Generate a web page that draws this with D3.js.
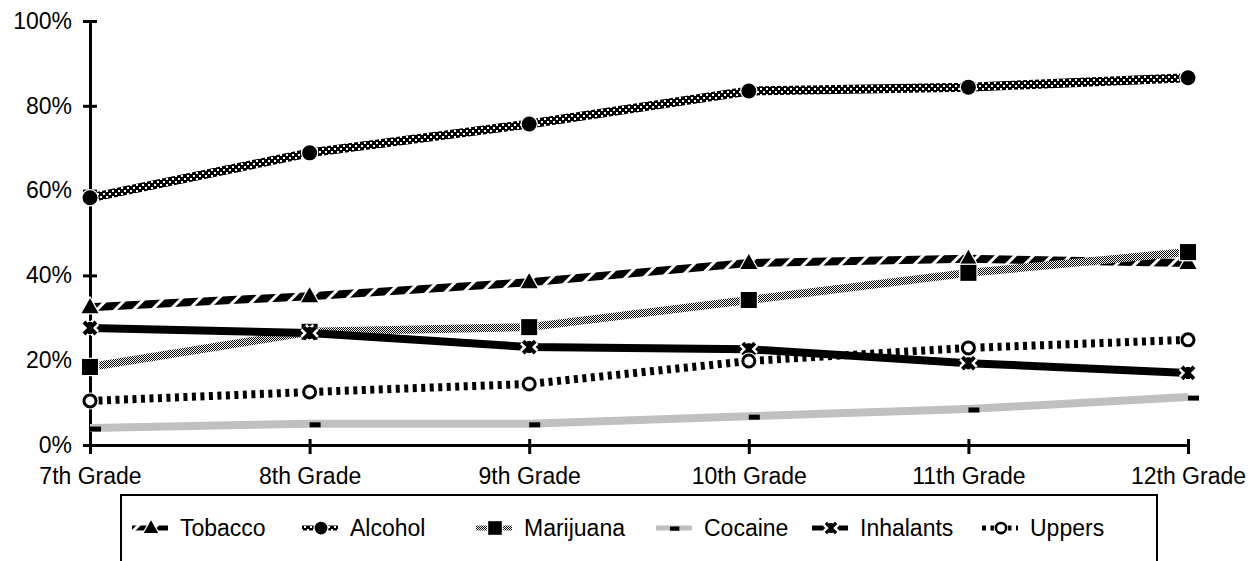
<!DOCTYPE html>
<html><head><meta charset="utf-8">
<script src="https://cdn.jsdelivr.net/npm/d3@7"></script>
<style>
html,body{margin:0;padding:0;background:#fff;}
svg{display:block;font-family:"Liberation Sans",Arial,sans-serif;}
</style></head>
<body><svg id="chart" width="1260" height="561"></svg>
<script>
const categories = ["7th Grade","8th Grade","9th Grade","10th Grade","11th Grade","12th Grade"];
const seriesNames = ["Tobacco","Alcohol","Marijuana","Cocaine","Inhalants","Uppers"];
const tobacco   = [32.5, 35.1, 38.4, 42.9, 43.9, 42.9];
const alcohol   = [58.3, 68.9, 75.7, 83.5, 84.4, 86.6];
const marijuana = [18.4, 26.7, 27.8, 34.2, 40.6, 45.5];
const cocaine   = [4.0, 5.0, 5.0, 6.8, 8.5, 11.3];
const inhalants = [27.6, 26.4, 23.1, 22.6, 19.3, 17.0];
const uppers    = [10.4, 12.5, 14.4, 19.8, 22.9, 24.8];
const yTicks = [0, 20, 40, 60, 80, 100];
const yTickLabels = ["0%","20%","40%","60%","80%","100%"];

const seriesValues = [tobacco, alcohol, marijuana, cocaine, inhalants, uppers];

const svg = d3.select("#chart");
const FONT = 23;

// patterns
const defs = svg.append("defs");
const pTob = defs.append("pattern").attr("id","pTob").attr("patternUnits","userSpaceOnUse")
  .attr("width",13).attr("height",13).attr("patternTransform","rotate(45)");
pTob.append("rect").attr("width",13).attr("height",13).attr("fill","#000");
pTob.append("rect").attr("width",3).attr("height",13).attr("fill","#fff");

const pAlc = defs.append("pattern").attr("id","pAlc").attr("patternUnits","userSpaceOnUse")
  .attr("width",6).attr("height",6);
pAlc.append("rect").attr("width",6).attr("height",6).attr("fill","#000");
pAlc.append("rect").attr("x",1).attr("y",1).attr("width",2).attr("height",2).attr("fill","#fff");
pAlc.append("rect").attr("x",4).attr("y",4).attr("width",2).attr("height",2).attr("fill","#fff");

const pMar = defs.append("pattern").attr("id","pMar").attr("patternUnits","userSpaceOnUse")
  .attr("width",2).attr("height",2);
pMar.append("rect").attr("width",2).attr("height",2).attr("fill","#fff");
pMar.append("rect").attr("width",1).attr("height",1).attr("fill","#000");
pMar.append("rect").attr("x",1).attr("y",1).attr("width",1).attr("height",1).attr("fill","#000");

const styles = [
  {stroke:"url(#pTob)", dash:null, marker:"triangle", w:8},
  {stroke:"url(#pAlc)", dash:null, marker:"circle", w:9},
  {stroke:"url(#pMar)", dash:null, marker:"square", w:8},
  {stroke:"#c0c0c0", dash:null, marker:"dash", w:8},
  {stroke:"#000", dash:null, marker:"star", w:8},
  {stroke:"#000", dash:"4,4.5", marker:"ocircle", w:8}
];

const x = d3.scalePoint().domain(categories).range([90, 1188]);
const y = d3.scaleLinear().domain([0, 100]).range([445, 21]);

// axes
const yAxis = d3.axisLeft(y).tickValues(yTicks).tickFormat((d,i)=>yTickLabels[i]).tickSizeInner(7).tickSizeOuter(0).tickPadding(11);
const gy = svg.append("g").attr("transform","translate(90,0)").call(yAxis);
gy.select(".domain").attr("stroke","#000").attr("stroke-width",3);
gy.selectAll(".tick line").attr("stroke","#000").attr("stroke-width",3).attr("x1",7);
gy.selectAll(".tick text").attr("font-size",FONT).attr("fill","#000").attr("font-family","Liberation Sans, Arial, sans-serif").attr("x",-18);

const xAxis = d3.axisBottom(x).tickSizeInner(9).tickSizeOuter(0).tickPadding(14);
const gx = svg.append("g").attr("transform","translate(0,445)").call(xAxis);
gx.select(".domain").attr("stroke","#000").attr("stroke-width",3);
gx.selectAll(".tick line").attr("stroke","#000").attr("stroke-width",3).attr("y1",-6);
gx.selectAll(".tick text").attr("font-size",FONT).attr("fill","#000").attr("font-family","Liberation Sans, Arial, sans-serif").attr("dy","0.71em");

// markers
function drawMarker(g, type, cx, cy, s) {
  s = s || 1;
  const halo = 2.5;
  if (type === "triangle") {
    const w = 8.5*s, h = 15*s;
    const pts = [[cx, cy-h*0.6],[cx+w, cy+h*0.4],[cx-w, cy+h*0.4]];
    g.append("polygon").attr("points", pts.map(p=>p.join(",")).join(" "))
      .attr("fill","#000").attr("stroke","#fff").attr("stroke-width",halo).attr("paint-order","stroke");
  } else if (type === "circle") {
    g.append("circle").attr("cx",cx).attr("cy",cy).attr("r",7.5*s)
      .attr("fill","#000").attr("stroke","#fff").attr("stroke-width",halo).attr("paint-order","stroke");
  } else if (type === "square") {
    const a = 8*s;
    g.append("rect").attr("x",cx-a).attr("y",cy-a).attr("width",2*a).attr("height",2*a)
      .attr("fill","#000").attr("stroke","#fff").attr("stroke-width",halo).attr("paint-order","stroke");
  } else if (type === "dash") {
    g.append("rect").attr("x",cx).attr("y",cy-1.5).attr("width",11*s).attr("height",5*s).attr("fill","#000");
  } else if (type === "star") {
    const a = 6*s;
    const d = `M${cx-a},${cy-a}L${cx+a},${cy+a}M${cx+a},${cy-a}L${cx-a},${cy+a}M${cx},${cy-a}L${cx},${cy+a}`;
    g.append("path").attr("d",d).attr("stroke","#fff").attr("stroke-width",4*s+2*halo).attr("fill","none");
    g.append("path").attr("d",d).attr("stroke","#000").attr("stroke-width",4*s).attr("fill","none");
  } else if (type === "ocircle") {
    g.append("circle").attr("cx",cx).attr("cy",cy).attr("r",8.5*s).attr("fill","#fff");
    g.append("circle").attr("cx",cx).attr("cy",cy).attr("r",6*s)
      .attr("fill","#fff").attr("stroke","#000").attr("stroke-width",3*s);
  }
}

const line = d3.line().x((d,i)=>x(categories[i])).y(d=>y(d));

seriesValues.forEach((vals, si) => {
  const st = styles[si];
  const g = svg.append("g");
  g.append("path").attr("d", line(vals)).attr("fill","none")
    .attr("stroke", st.stroke).attr("stroke-width", st.w)
    .attr("stroke-dasharray", st.dash);
  vals.forEach((v,i)=> drawMarker(g, st.marker, x(categories[i]), y(v)));
});

// legend
svg.append("rect").attr("x",121).attr("y",495).attr("width",1036).attr("height",120)
  .attr("fill","#fff").attr("stroke","#000").attr("stroke-width",2);
const legendTextX = [180, 350, 524, 704, 860, 1030];
const legY = 528;
seriesNames.forEach((name, si) => {
  const st = styles[si];
  const g = svg.append("g");
  const cx = legendTextX[si] - 29;
  g.append("line").attr("x1",cx-19).attr("x2",cx+17).attr("y1",legY).attr("y2",legY)
    .attr("stroke",st.stroke).attr("stroke-width",5).attr("stroke-dasharray",st.dash);
  drawMarker(g, st.marker, st.marker==="dash"? cx-5 : cx, legY, 0.85);
  g.append("text").attr("x",legendTextX[si]).attr("y",legY).attr("dy","0.35em")
    .attr("font-size",FONT).attr("fill","#000").text(name);
});
</script></body></html>
